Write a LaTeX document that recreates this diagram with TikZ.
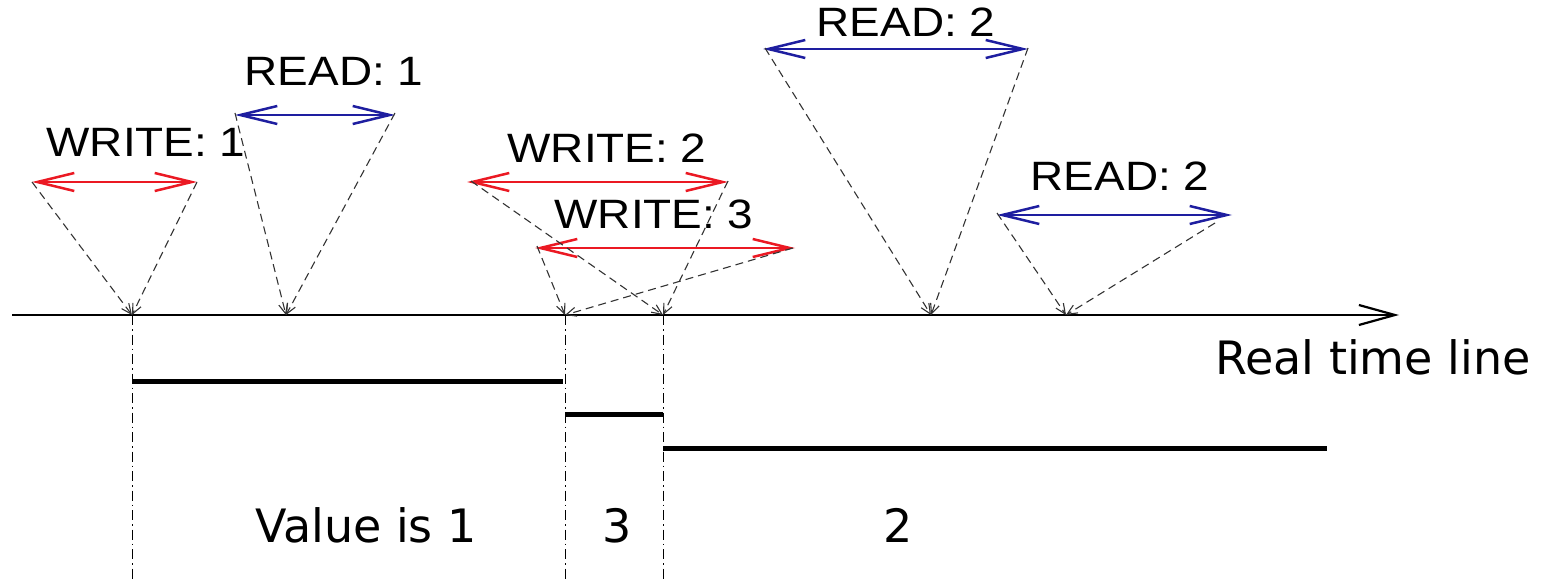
\documentclass[tikz,border=0pt]{standalone}
\usepackage{fontspec}
\setmainfont{Liberation Sans}
\newfontfamily\djsans{DejaVu Sans}
\usetikzlibrary{arrows.meta}
\definecolor{wred}{RGB}{235,25,35}
\definecolor{rblue}{RGB}{30,30,160}
\tikzset{
  opbar/.style={line width=2.5pt,{Straight Barb[length=37pt,width=18pt]}-{Straight Barb[length=37pt,width=18pt]}},
  wbar/.style={opbar,draw=wred},
  rbar/.style={opbar,draw=rblue},
  proj/.style={draw=black!80,line width=1.1pt,dash pattern=on 8pt off 5pt,-{Straight Barb[length=10pt,width=9pt]}},
  opl/.style={font=\fontsize{41}{46}\selectfont,inner sep=0pt,anchor=base},
  vall/.style={font=\djsans\fontsize{46}{52}\selectfont,inner sep=0pt,anchor=base},
  vline/.style={draw=black,line width=1pt,dash pattern=on 10pt off 4pt on 1.5pt off 4pt},
  valbar/.style={draw=black,line width=5pt},
}
\newcommand{\xw}[1]{\scalebox{1.12}[1]{#1}}
\begin{document}
\begin{tikzpicture}[x=1pt,y=-1pt]
\useasboundingbox (0,0) rectangle (1552,580);
% time line
\coordinate (ts) at (12,315);
\coordinate (te) at (1399,315);
\draw[line width=2.2pt,-{Straight Barb[length=36pt,width=20pt]}] (ts) -- (te);
\node[vall] (rtl) at (1373,374) {Real time line};
% points on the time line
\coordinate (t1) at (132,315);
\coordinate (t2) at (286,315);
\coordinate (t3) at (565,315);
\coordinate (t4) at (663,315);
\coordinate (t5) at (931,315);
\coordinate (t6) at (1066,315);
% operation intervals
\coordinate (w1a) at (32,182);  \coordinate (w1b) at (197,182);
\coordinate (r1a) at (235,115); \coordinate (r1b) at (395,115);
\coordinate (w2a) at (467,182); \coordinate (w2b) at (728,182);
\coordinate (w3a) at (535,248); \coordinate (w3b) at (795,248);
\coordinate (r2a) at (763,49);  \coordinate (r2b) at (1028,49);
\coordinate (r3a) at (997,215); \coordinate (r3b) at (1232,215);
\draw[wbar] (w1a) -- (w1b);
\draw[rbar] (r1a) -- (r1b);
\draw[wbar] (w2a) -- (w2b);
\draw[wbar] (w3a) -- (w3b);
\draw[rbar] (r2a) -- (r2b);
\draw[rbar] (r3a) -- (r3b);
% labels
\node[opl] (lw1) at (146,157) {\xw{WRITE: 1}};
\node[opl] (lr1) at (334,86) {\xw{READ: 1}};
\node[opl] (lw2) at (607,163) {\xw{WRITE: 2}};
\node[opl] (lw3) at (654,229) {\xw{WRITE: 3}};
\node[opl] (lr2) at (906,37) {\xw{READ: 2}};
\node[opl] (lr3) at (1120,190) {\xw{READ: 2}};
% projections
\draw[proj] (w1a) -- (t1);
\draw[proj] (w1b) -- (t1);
\draw[proj] ([yshift=2pt]r1a) -- (t2);
\draw[proj] ([yshift=2pt]r1b) -- (t2);
\draw[proj] ([xshift=4pt,yshift=1pt]w2a) -- (t4);
\draw[proj] ([yshift=1pt]w2b) -- (t4);
\draw[proj] ([xshift=2pt,yshift=2pt]w3a) -- (t3);
\draw[proj] ([xshift=-2pt]w3b) -- (t3);
\draw[proj] ([xshift=2pt,yshift=1pt]r2a) -- (t5);
\draw[proj] ([yshift=1pt]r2b) -- (t5);
\draw[proj] ([yshift=2pt]r3a) -- (t6);
\coordinate (r3c) at (1215,223);
\draw[proj] (r3c) -- (t6);
% vertical dash-dot lines
\coordinate (b1) at (132,580);
\coordinate (b3) at (565,580);
\coordinate (b4) at (663,580);
\draw[vline] (t1) -- (b1);
\draw[vline] (t3) -- (b3);
\draw[vline] (t4) -- (b4);
% value bars
\coordinate (v1a) at (132,381); \coordinate (v1b) at (563,381);
\coordinate (v2a) at (565,414); \coordinate (v2b) at (663,414);
\coordinate (v3a) at (663,448); \coordinate (v3b) at (1327,448);
\draw[valbar] (v1a) -- (v1b);
\draw[valbar] (v2a) -- (v2b);
\draw[valbar] (v3a) -- (v3b);
% value texts
\node[vall] (val1) at (366,542) {Value is 1};
\node[vall] (val3) at (617,542) {3};
\node[vall] (val2) at (898,542) {2};
\end{tikzpicture}
\end{document}
